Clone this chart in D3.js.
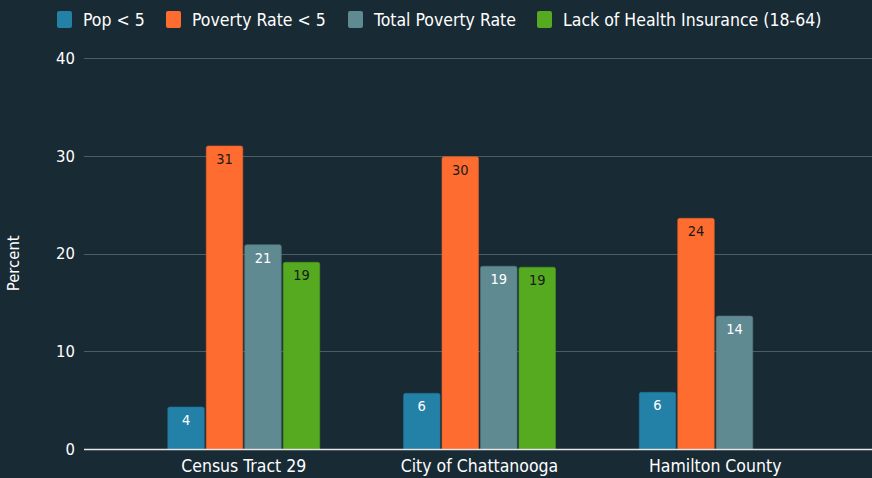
<!DOCTYPE html>
<html>
<head>
<meta charset="utf-8">
<script src="https://cdn.jsdelivr.net/npm/d3@7"></script>
<style>
  html, body { margin: 0; padding: 0; background: #182a34; }
  svg { display: block; }
  text { font-family: "DejaVu Sans Condensed", "DejaVu Sans", sans-serif; }
</style>
</head>
<body>
<div id="chart"></div>
<script>
var categories = ["Census Tract 29", "City of Chattanooga", "Hamilton County"];
var seriesNames = ["Pop < 5", "Poverty Rate < 5", "Total Poverty Rate", "Lack of Health Insurance (18-64)"];
var popUnder5 = [4.3, 5.7, 5.8];
var povertyUnder5 = [31.0, 29.9, 23.6];
var totalPoverty = [20.9, 18.7, 13.6];
var noInsurance = [19.1, 18.6, null];
var yTicks = [0, 10, 20, 30, 40];

var colors = ["#2381a8", "#ff6c2f", "#5f8a92", "#55aa20"];
var labelColors = ["#ffffff", "#1a1a1a", "#ffffff", "#1a1a1a"];
var seriesValues = [popUnder5, povertyUnder5, totalPoverty, noInsurance];

var width = 872, height = 478;
var margin = { top: 58, right: 0, bottom: 29, left: 84 };

var svg = d3.select("#chart").append("svg")
    .attr("width", width)
    .attr("height", height);

svg.append("rect")
    .attr("width", width)
    .attr("height", height)
    .style("fill", "#182a34");

var x0 = d3.scaleBand()
    .domain(categories)
    .range([margin.left + 3, width - margin.right])
    .paddingInner(0)
    .paddingOuter(0.165);

var x1 = d3.scaleBand()
    .domain(d3.range(seriesNames.length))
    .range([0, 152])
    .paddingInner(0.05);

var y = d3.scaleLinear()
    .domain([0, 40])
    .range([height - margin.bottom, margin.top]);

// Grid
svg.append("g")
    .selectAll("line")
    .data(yTicks.filter(function(d) { return d > 0; }))
  .enter().append("line")
    .attr("x1", margin.left)
    .attr("x2", width - margin.right)
    .attr("y1", function(d) { return Math.round(y(d)) + 0.5; })
    .attr("y2", function(d) { return Math.round(y(d)) + 0.5; })
    .style("stroke", "#4d5d66")
    .style("stroke-width", 1);

// Y tick labels
svg.append("g")
    .selectAll("text")
    .data(yTicks)
  .enter().append("text")
    .attr("x", 75)
    .attr("y", function(d) { return y(d); })
    .attr("dy", "0.35em")
    .attr("text-anchor", "end")
    .style("fill", "#ffffff")
    .style("font-size", "16.5px")
    .text(function(d) { return d; });

svg.append("text")
    .attr("transform", "translate(19," + y(19) + ") rotate(-90)")
    .attr("text-anchor", "middle")
    .style("fill", "#ffffff")
    .style("font-size", "16.5px")
    .text("Percent");

// Bars
var rows = [];
categories.forEach(function(c, ci) {
  seriesValues.forEach(function(vals, si) {
    if (vals[ci] != null) rows.push({ cat: c, s: si, v: vals[ci] });
  });
});

function barX(d) {
  return x0(d.cat) + x0.bandwidth() / 2 - 76 + x1(d.s);
}

function topRounded(x, yTop, w, h, r) {
  return "M" + x + "," + (yTop + h) +
    "V" + (yTop + r) +
    "Q" + x + "," + yTop + " " + (x + r) + "," + yTop +
    "H" + (x + w - r) +
    "Q" + (x + w) + "," + yTop + " " + (x + w) + "," + (yTop + r) +
    "V" + (yTop + h) + "Z";
}

var bars = svg.append("g");

bars.selectAll("path")
    .data(rows)
  .enter().append("path")
    .attr("d", function(d) {
      return topRounded(barX(d), y(d.v), x1.bandwidth(), y(0) - y(d.v), 2);
    })
    .style("fill", function(d) { return colors[d.s]; })
    .style("stroke", function(d) { return d3.color(colors[d.s]).darker(0.4); })
    .style("stroke-width", 0.6);

bars.selectAll("text")
    .data(rows)
  .enter().append("text")
    .attr("x", function(d) { return barX(d) + x1.bandwidth() / 2; })
    .attr("y", function(d) { return y(d.v) + 18; })
    .attr("text-anchor", "middle")
    .style("fill", function(d) { return labelColors[d.s]; })
    .style("font-size", "14.5px")
    .text(function(d) { return Math.round(d.v); });

// Baseline
svg.append("line")
    .attr("x1", margin.left)
    .attr("x2", width - margin.right)
    .attr("y1", Math.round(y(0)) + 0.5)
    .attr("y2", Math.round(y(0)) + 0.5)
    .style("stroke", "#e6e6e6")
    .style("stroke-width", 1.5);

// Category labels
svg.append("g")
    .selectAll("text")
    .data(categories)
  .enter().append("text")
    .attr("x", function(d) { return x0(d) + x0.bandwidth() / 2; })
    .attr("y", 472)
    .attr("text-anchor", "middle")
    .style("fill", "#ffffff")
    .style("font-size", "17.5px")
    .text(function(d) { return d; });

// Legend
var legendX = [57, 166, 348, 537];
var legend = svg.append("g")
    .selectAll("g")
    .data(seriesNames)
  .enter().append("g")
    .attr("transform", function(d, i) { return "translate(" + legendX[i] + ",11)"; });

legend.append("rect")
    .attr("width", 15)
    .attr("height", 17)
    .attr("rx", 2)
    .style("fill", function(d, i) { return colors[i]; });

legend.append("text")
    .attr("x", 26)
    .attr("y", 8.5)
    .attr("dy", "0.35em")
    .style("fill", "#ffffff")
    .style("font-size", "17.5px")
    .text(function(d) { return d; });
</script>
</body>
</html>
